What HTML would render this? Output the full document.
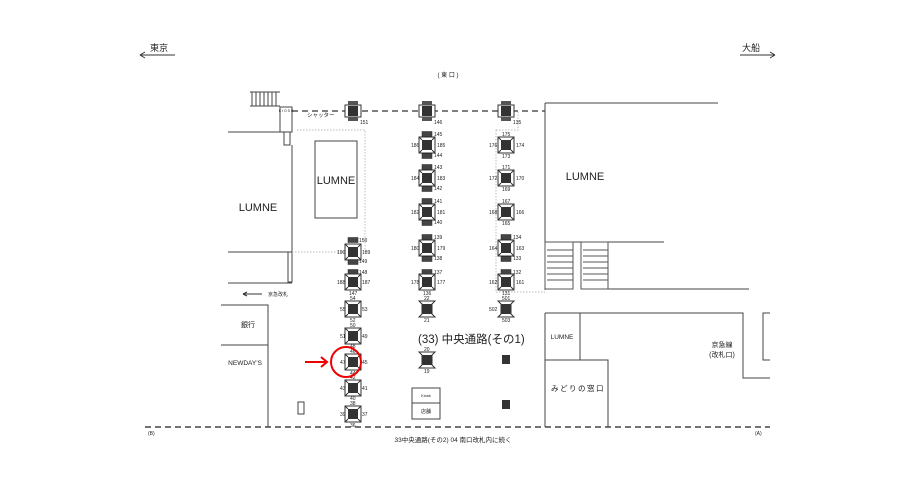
<!DOCTYPE html>
<html><head><meta charset="utf-8"><style>
html,body{margin:0;padding:0;background:#fff}
svg{display:block}
text{font-family:"Liberation Sans","Noto Sans CJK JP",sans-serif;fill:#222}
.n{font-size:5px}
</style></head><body>
<svg width="919" height="491" viewBox="0 0 919 491" xmlns="http://www.w3.org/2000/svg">
<defs>
<g id="esc">
<rect x="-8" y="-8" width="16" height="16" fill="#fff" stroke="#333" stroke-width="1"/>
<rect x="-5" y="-5" width="10" height="10" fill="#333"/>
<path d="M-8 -8L-5 -5M8 -8L5 -5M-8 8L-5 5M8 8L5 5" stroke="#333" stroke-width="1"/>
</g>
<g id="tag"><rect x="-5" y="-2.5" width="10" height="5" fill="#444" stroke="#222" stroke-width=".5"/></g>
<g id="hour">
<path d="M-8 -8H8L5 -5V5L8 8H-8L-5 5V-5Z" fill="#fff" stroke="#333"/>
<rect x="-5" y="-5" width="10" height="10" fill="#333"/>
</g>
<g id="gate">
<rect x="-8" y="-6" width="16" height="12" fill="#fff" stroke="#333"/>
<rect x="-5" y="-5" width="10" height="10" fill="#333"/>
<rect x="-5" y="-10" width="10" height="4" fill="#555"/>
<rect x="-5" y="6" width="10" height="4" fill="#555"/>
</g>
</defs>

<!-- top direction -->
<text x="150" y="51" font-size="9">東京</text>
<path d="M140 55H175M140 55l5 -3M140 55l5 3" stroke="#333" fill="none"/>
<text x="742" y="51" font-size="9">大船</text>
<path d="M740 55H775M775 55l-5 -3M775 55l-5 3" stroke="#333" fill="none"/>
<text x="448" y="77" font-size="6" text-anchor="middle">( 東 口 )</text>

<!-- shutter -->
<path d="M292 111H545" stroke="#555" stroke-width="1.5" stroke-dasharray="6 4"/>
<text x="307" y="117" font-size="5.5">シャッター</text>

<!-- left structures -->
<path d="M250 92H280M228 132H280" stroke="#444"/>
<g stroke="#444"><path d="M252 92V106M256 92V106M260 92V106M264 92V106M268 92V106M272 92V106M276 92V106M250 106H280"/></g>
<rect x="280" y="107" width="12" height="25" fill="#fff" stroke="#444"/>
<text x="286" y="112" font-size="3.5" text-anchor="middle">K I O S K</text>
<rect x="284" y="132" width="6" height="13" fill="#fff" stroke="#444"/>
<path d="M292 145V282M228 252H292M228 283H292" stroke="#444"/>
<rect x="288" y="252" width="4" height="30" fill="none" stroke="#444"/>
<text x="258" y="211" font-size="11" text-anchor="middle">LUMNE</text>
<path d="M297 130H365V252M292 252H345" stroke="#bbb" stroke-dasharray="1.5 1.5" fill="none"/>
<rect x="315" y="141" width="42" height="77" fill="#fff" stroke="#444"/>
<text x="336" y="184" font-size="11" text-anchor="middle">LUMNE</text>

<path d="M243 294H262M243 294l4 -2M243 294l4 2" stroke="#333" fill="none"/>
<text x="268" y="296" font-size="5">京急改札</text>
<path d="M221 305H268V427M221 345H268" stroke="#444" fill="none"/>
<text x="248" y="327" font-size="7" text-anchor="middle">銀行</text>
<text x="262" y="365" font-size="6.5" text-anchor="end">NEWDAY’S</text>
<rect x="298" y="402" width="6" height="12" fill="#fff" stroke="#444"/>

<!-- column 1 x=353 -->
<use href="#gate" x="353" y="111"/><text class="n" x="360" y="124">151</text>
<use href="#tag" x="353" y="240"/><use href="#esc" x="353" y="252"/><use href="#tag" x="353" y="262"/>
<text class="n" x="359" y="242">150</text><text class="n" x="337" y="254">190</text><text class="n" x="362" y="254">189</text><text class="n" x="359" y="263">149</text>
<use href="#tag" x="353" y="272"/><use href="#esc" x="353" y="282"/>
<text class="n" x="359" y="274">148</text><text class="n" x="337" y="284">188</text><text class="n" x="362" y="284">187</text><text class="n" x="349" y="295">147</text>
<use href="#esc" x="353" y="309"/><text class="n" x="350" y="300">54</text><text class="n" x="340" y="311">55</text><text class="n" x="362" y="311">53</text><text class="n" x="350" y="322">52</text>
<use href="#esc" x="353" y="336"/><text class="n" x="350" y="327">50</text><text class="n" x="340" y="338">51</text><text class="n" x="362" y="338">49</text><text class="n" x="350" y="348">48</text>
<use href="#esc" x="353" y="362"/><text class="n" x="350" y="353">46</text><text class="n" x="340" y="364">47</text><text class="n" x="362" y="364">45</text><text class="n" x="350" y="375">44</text>
<use href="#esc" x="353" y="388"/><text class="n" x="350" y="379">42</text><text class="n" x="340" y="390">43</text><text class="n" x="362" y="390">41</text><text class="n" x="350" y="400">40</text>
<use href="#esc" x="353" y="414"/><text class="n" x="350" y="405">38</text><text class="n" x="340" y="416">39</text><text class="n" x="362" y="416">37</text><text class="n" x="350" y="427">36</text>

<!-- red marker -->
<circle cx="346" cy="362" r="15" fill="none" stroke="#e00" stroke-width="2"/>
<path d="M305 362H327M321 357L327 362L321 367" stroke="#e00" stroke-width="2" fill="none"/>

<!-- column 2 x=427 -->
<use href="#gate" x="427" y="111"/><text class="n" x="434" y="124">146</text>
<g id="c2a"><use href="#tag" x="427" y="134"/><use href="#esc" x="427" y="145"/><use href="#tag" x="427" y="156"/></g>
<text class="n" x="434" y="136">145</text><text class="n" x="411" y="147">186</text><text class="n" x="437" y="147">185</text><text class="n" x="434" y="157">144</text>
<use href="#tag" x="427" y="167"/><use href="#esc" x="427" y="178"/><use href="#tag" x="427" y="189"/>
<text class="n" x="434" y="169">143</text><text class="n" x="411" y="180">184</text><text class="n" x="437" y="180">183</text><text class="n" x="434" y="190">142</text>
<use href="#tag" x="427" y="201"/><use href="#esc" x="427" y="212"/><use href="#tag" x="427" y="223"/>
<text class="n" x="434" y="203">141</text><text class="n" x="411" y="214">182</text><text class="n" x="437" y="214">181</text><text class="n" x="434" y="224">140</text>
<use href="#tag" x="427" y="237"/><use href="#esc" x="427" y="248"/><use href="#tag" x="427" y="259"/>
<text class="n" x="434" y="239">139</text><text class="n" x="411" y="250">180</text><text class="n" x="437" y="250">179</text><text class="n" x="434" y="260">138</text>
<use href="#tag" x="427" y="272"/><use href="#esc" x="427" y="282"/>
<text class="n" x="434" y="274">137</text><text class="n" x="411" y="284">178</text><text class="n" x="437" y="284">177</text><text class="n" x="423" y="295">136</text>
<use href="#hour" x="427" y="309"/><text class="n" x="424" y="300">22</text><text class="n" x="424" y="322">21</text>
<use href="#hour" x="427" y="360"/><text class="n" x="424" y="351">20</text><text class="n" x="424" y="373">19</text>
<rect x="412" y="388" width="28" height="31" fill="#fff" stroke="#444"/><path d="M412 403H440" stroke="#444"/>
<text x="426" y="397" font-size="4" text-anchor="middle">Kiosk</text>
<text x="426" y="413" font-size="5" text-anchor="middle">店舗</text>

<text x="418" y="343" font-size="11.5">(33) 中央通路(その1)</text>

<!-- column 3 x=506 -->
<path d="M496 130V292H545" stroke="#bbb" stroke-dasharray="1.5 1.5" fill="none"/>
<path d="M496 130H518V111" stroke="#bbb" stroke-dasharray="1.5 1.5" fill="none"/>
<use href="#gate" x="506" y="111"/><text class="n" x="513" y="124">135</text>
<use href="#esc" x="506" y="145"/><text class="n" x="502" y="136">175</text><text class="n" x="489" y="147">176</text><text class="n" x="516" y="147">174</text><text class="n" x="502" y="158">173</text>
<use href="#esc" x="506" y="178"/><text class="n" x="502" y="169">171</text><text class="n" x="489" y="180">172</text><text class="n" x="516" y="180">170</text><text class="n" x="502" y="191">169</text>
<use href="#esc" x="506" y="212"/><text class="n" x="502" y="203">167</text><text class="n" x="489" y="214">168</text><text class="n" x="516" y="214">166</text><text class="n" x="502" y="225">165</text>
<use href="#tag" x="506" y="237"/><use href="#esc" x="506" y="248"/><use href="#tag" x="506" y="259"/>
<text class="n" x="513" y="239">134</text><text class="n" x="489" y="250">164</text><text class="n" x="516" y="250">163</text><text class="n" x="513" y="260">133</text>
<use href="#tag" x="506" y="272"/><use href="#esc" x="506" y="282"/>
<text class="n" x="513" y="274">132</text><text class="n" x="489" y="284">162</text><text class="n" x="516" y="284">161</text><text class="n" x="502" y="295">131</text>
<use href="#hour" x="506" y="309"/><text class="n" x="502" y="300">501</text><text class="n" x="489" y="311">502</text><text class="n" x="502" y="322">503</text>
<rect x="502" y="355" width="8" height="9" fill="#333"/>
<rect x="502" y="400" width="8" height="9" fill="#333"/>

<!-- right structures -->
<path d="M545 103H718M545 103V290M545 242H664M608 289H749" stroke="#444" fill="none"/>
<text x="585" y="180" font-size="11" text-anchor="middle">LUMNE</text>
<g stroke="#555">
<rect x="545" y="242" width="28" height="47" fill="none"/>
<rect x="581" y="242" width="27" height="47" fill="none"/>
<path d="M547 250H573M547 256H573M547 262H573M547 268H573M547 274H573M547 280H573M583 250H608M583 256H608M583 262H608M583 268H608M583 274H608M583 280H608"/>
</g>
<path d="M545 313H743V378H770M545 313V427M580 313V360M545 360H608V427M770 313H763V360H770" stroke="#444" fill="none"/>
<text x="562" y="339" font-size="6.5" text-anchor="middle">LUMNE</text>
<text x="722" y="347" font-size="7" text-anchor="middle">京急線</text>
<text x="722" y="357" font-size="7" text-anchor="middle">(改札口)</text>
<text x="578" y="391" font-size="7.5" text-anchor="middle" letter-spacing="1.5">みどりの窓口</text>

<!-- bottom -->
<path d="M145 427H770" stroke="#444" stroke-width="1.5" stroke-dasharray="6 4"/>
<text x="148" y="435" font-size="5">(B)</text>
<text x="755" y="435" font-size="5">(A)</text>
<text x="453" y="442" font-size="6.5" text-anchor="middle">33中央通路(その2)  04 南口改札内に続く</text>
</svg>
</body></html>
